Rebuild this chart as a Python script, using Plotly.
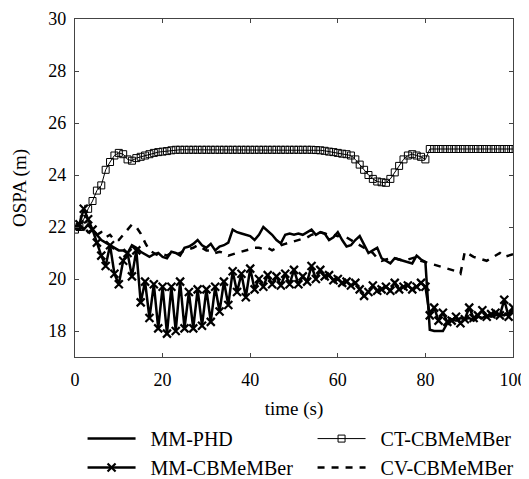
import plotly.graph_objects as go

time_s = list(range(0, 101))

mm_phd = [22.0, 22.0, 21.9, 22.1, 21.9, 21.7, 21.5, 21.4, 21.3, 21.2,
          21.1, 21.1, 21.0, 21.3, 21.2, 21.05, 20.95, 20.85, 20.95, 21.0,
          20.85, 20.8, 21.05, 21.0, 20.9, 21.2, 21.25, 21.35, 21.5, 21.3,
          21.2, 21.35, 21.1, 21.25, 21.3, 21.4, 21.9, 21.8, 21.75, 21.7,
          21.65, 21.5, 21.7, 22.0, 21.85, 21.7, 21.5, 21.37, 21.7, 21.75,
          21.7, 21.75, 21.7, 21.8, 21.9, 21.7, 21.8, 21.75, 21.5, 21.6,
          21.8, 21.5, 21.25, 21.3, 21.5, 21.65, 21.3, 21.0, 21.1, 21.2,
          20.8, 20.7, 20.6, 20.8, 20.75, 20.7, 20.65, 20.6, 20.9, 20.75,
          20.65, 18.05, 18.0, 18.0, 18.0, 18.3, 18.45, 18.4, 18.5, 18.45,
          18.5, 18.4, 18.55, 18.5, 18.6, 18.55, 18.6, 18.65, 18.6, 18.7,
          18.75]

ct_cbmember = [21.9, 22.0, 22.3, 22.7, 23.0, 23.4, 23.6, 24.2, 24.5, 24.75,
               24.85, 24.8, 24.6, 24.55, 24.65, 24.7, 24.75, 24.8, 24.85, 24.88,
               24.9, 24.92, 24.95, 24.97, 24.97, 24.97, 24.97, 24.97, 24.97, 24.97,
               24.97, 24.97, 24.97, 24.97, 24.97, 24.97, 24.97, 24.97, 24.97, 24.97,
               24.97, 24.97, 24.97, 24.97, 24.97, 24.97, 24.97, 24.97, 24.97, 24.97,
               24.97, 24.97, 24.97, 24.97, 24.97, 24.96, 24.95, 24.93, 24.9, 24.88,
               24.85, 24.82, 24.8, 24.75, 24.6, 24.4, 24.2, 24.0, 23.85, 23.75,
               23.72, 23.7, 23.85, 24.1, 24.35, 24.6, 24.75, 24.8, 24.75, 24.7,
               24.6, 25.0, 25.0, 25.0, 25.0, 25.0, 25.0, 25.0, 25.0, 25.0,
               25.0, 25.0, 25.0, 25.0, 25.0, 25.0, 25.0, 25.0, 25.0, 25.0,
               25.0]

mm_cbmember = [22.0, 22.1, 22.7, 22.3, 21.9, 21.4, 20.9, 20.5, 21.3, 20.2,
               19.8, 20.7, 21.0, 20.1, 21.1, 19.1, 19.9, 18.5, 19.8, 18.1,
               19.7, 17.9, 19.7, 18.0, 19.9, 18.1, 19.5, 18.1, 19.6, 18.2,
               19.6, 18.35, 19.7, 18.75, 19.9, 19.0, 20.3, 19.5, 20.2, 19.3,
               20.4, 19.6, 20.0, 19.7, 20.15, 19.8, 20.1, 19.75, 20.2, 19.8,
               20.35, 19.8, 20.1, 19.9, 20.5, 20.0, 20.35, 20.1, 20.15, 19.95,
               20.0, 19.85, 19.9, 19.75, 19.85, 19.6, 19.35, 19.5, 19.75, 19.55,
               19.6, 19.7, 19.55, 19.85, 19.6, 19.7, 19.75, 19.6, 19.7, 19.85,
               19.7, 18.6, 18.9, 18.4, 18.7, 18.35, 18.4, 18.55, 18.3, 18.45,
               18.9, 18.5, 18.6, 18.8, 18.55, 18.65, 18.7, 18.6, 19.2, 18.55,
               18.9]

cv_cbmember = [22.0, 21.9, 22.0, 21.8, 21.9, 21.7, 21.8, 21.6, 21.7, 21.5,
               21.5, 21.7, 21.9, 22.1, 22.0, 21.75, 21.4, 21.1, 21.0, 20.9,
               20.95, 20.9, 21.0, 20.95, 21.0, 21.1, 21.15, 21.2, 21.3, 21.2,
               21.1, 21.1, 21.0, 21.05, 21.0, 20.9, 20.95, 21.0, 21.05, 21.1,
               21.15, 21.2, 21.2, 21.15, 21.2, 21.1, 21.2, 21.3, 21.35, 21.4,
               21.45, 21.5, 21.55, 21.6, 21.7, 21.75, 21.8, 21.75, 21.7, 21.7,
               21.65, 21.7, 21.6, 21.5, 21.4, 21.3, 21.2, 21.1, 21.0, 20.8,
               20.7, 20.75, 20.8, 20.8, 20.75, 20.7, 20.75, 20.8, 20.85, 20.7,
               20.65, 20.6, 20.55, 20.5, 20.45, 20.4, 20.35, 20.3, 20.2, 21.05,
               20.95, 20.85, 20.8, 20.75, 20.7, 20.8, 20.9, 21.0, 20.85, 20.9,
               20.95]

series_names = ["MM-PHD", "CT-CBMeMBer", "MM-CBMeMBer", "CV-CBMeMBer"]
x_ticks = [0, 20, 40, 60, 80, 100]
y_ticks = [18, 20, 22, 24, 26, 28, 30]

FONT = "Liberation Serif"
PAD = "\u2002"

fig = go.Figure()
fig.add_trace(go.Scatter(x=time_s, y=mm_phd, name=PAD + series_names[0], mode="lines",
                         line=dict(color="black", width=2.5)))
fig.add_trace(go.Scatter(x=time_s, y=ct_cbmember, name=PAD + series_names[1], mode="lines+markers",
                         line=dict(color="black", width=1),
                         marker=dict(symbol="square-open", size=7, color="black",
                                     line=dict(width=1, color="black"))))
fig.add_trace(go.Scatter(x=time_s, y=mm_cbmember, name=PAD + series_names[2], mode="lines+markers",
                         line=dict(color="black", width=2.5),
                         marker=dict(symbol="x-thin", size=8, color="black",
                                     line=dict(width=2.2, color="black"))))
fig.add_trace(go.Scatter(x=time_s, y=cv_cbmember, name=PAD + series_names[3], mode="lines",
                         line=dict(color="black", width=2.5, dash="7px,7px")))

axis_common = dict(showline=True, linecolor="#444", linewidth=1.2, mirror="ticks",
                   ticks="inside", ticklen=4, tickcolor="#444", showgrid=False,
                   zeroline=False, tickfont=dict(family=FONT, size=18, color="black"))

fig.update_xaxes(range=[0, 100], tickvals=x_ticks, ticklabelstandoff=6,
                 title=dict(text="time (s)", font=dict(family=FONT, size=19, color="black"),
                            standoff=12),
                 **axis_common)
fig.update_yaxes(range=[17, 30], tickvals=y_ticks, ticklabelstandoff=4,
                 title=dict(text="OSPA (m)", font=dict(family=FONT, size=19, color="black"),
                            standoff=16),
                 **axis_common)

fig.update_layout(
    width=521, height=471,
    margin=dict(l=67, r=16, t=11, b=122, autoexpand=False),
    plot_bgcolor="white", paper_bgcolor="white",
    font=dict(family=FONT, size=18, color="black"),
    legend=dict(orientation="h", x=-0.001, xanchor="left",
                y=-0.16, yanchor="top", entrywidth=167, entrywidthmode="pixels",
                itemwidth=48, font=dict(family=FONT, size=20, color="black"),
                bgcolor="rgba(0,0,0,0)", bordercolor="rgba(0,0,0,0)", borderwidth=8,
                tracegroupgap=0),
)

fig.write_html("out.html")
